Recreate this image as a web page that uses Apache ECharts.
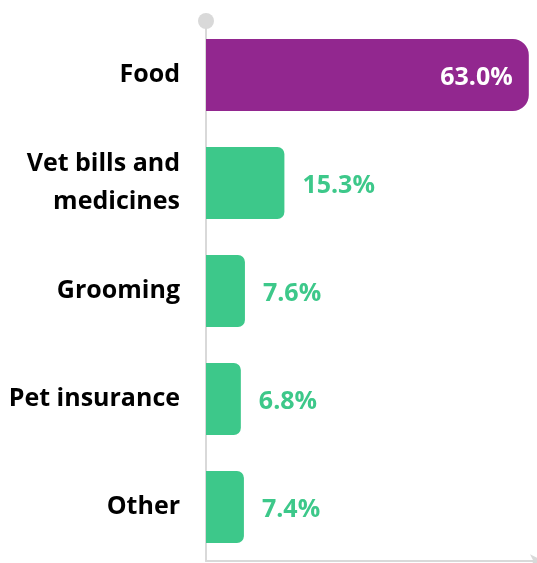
<!DOCTYPE html>
<html>
<head>
<meta charset="utf-8">
<script src="https://cdn.jsdelivr.net/npm/echarts@6/dist/echarts.min.js"></script>
<style>
html,body{margin:0;padding:0;background:#fff;}
#chart{width:537px;height:563px;}
</style>
</head>
<body>
<div id="chart"></div>
<script>
var categories = ['Food', 'Vet bills and\nmedicines', 'Grooming', 'Pet insurance', 'Other'];
var values = [63.0, 15.3, 7.6, 6.8, 7.4];

var purple = '#92278F';
var green = '#3DC88A';
var grey = '#D9D9D9';
var font = 'Open Sans';

var data = values.map(function (v, i) {
  var first = i === 0;
  return {
    value: v,
    itemStyle: {
      color: first ? purple : green,
      borderRadius: first ? [0, 16, 16, 0] : [0, 7, 7, 0]
    },
    label: first ? {
      position: 'insideRight',
      distance: 16,
      color: '#ffffff'
    } : {
      position: 'right',
      distance: 18,
      color: green
    }
  };
});

var chart = echarts.init(document.getElementById('chart'), null, {renderer: 'canvas'});
chart.setOption({
  animation: false,
  grid: {left: 206, right: 0, top: 21, bottom: 2, containLabel: false},
  xAxis: {
    type: 'value',
    min: 0,
    max: 64.6,
    splitLine: {show: false},
    axisLabel: {show: false},
    axisTick: {show: false},
    axisLine: {
      show: true,
      lineStyle: {color: grey, width: 2},
      symbol: ['none', 'arrow'],
      symbolSize: [10, 14],
      symbolOffset: [0, 7]
    }
  },
  yAxis: {
    type: 'category',
    inverse: true,
    data: categories,
    axisTick: {show: false},
    axisLine: {
      show: true,
      lineStyle: {color: grey, width: 2},
      symbol: ['none', 'circle'],
      symbolSize: [16, 16]
    },
    axisLabel: {
      margin: 26,
      color: '#000',
      fontFamily: font,
      fontWeight: 'bold',
      fontSize: 25,
      lineHeight: 38,
      padding: [4, 0, 0, 0],
      align: 'right'
    }
  },
  series: [{
    type: 'bar',
    data: data,
    barWidth: '66.7%',
    label: {
      show: true,
      fontFamily: font,
      fontWeight: 'bold',
      fontSize: 25,
      offset: [0, 3],
      formatter: function (p) { return p.value.toFixed(1) + '%'; }
    }
  }]
});
</script>
</body>
</html>
